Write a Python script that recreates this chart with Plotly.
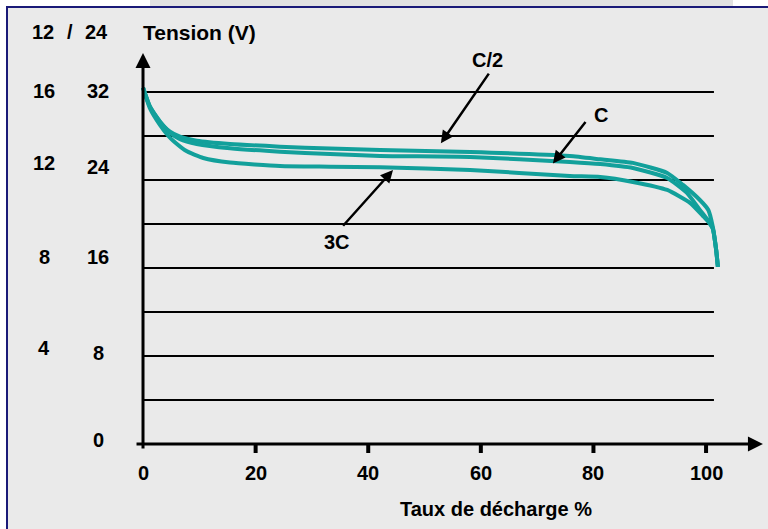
import plotly.graph_objects as go

# ---------------- data ----------------
x_c2 = [0, 1.24, 3.02, 4.8, 6.57, 9.54, 15.45, 24.33, 33.21, 42.1, 58.1, 75.8, 81.2, 87.0, 93.1, 95.9, 98.9, 100.4, 101.2, 101.8, 102.1]
y_c2 = [32.4, 30.66, 29.3, 28.39, 27.94, 27.57, 27.27, 27.03, 26.85, 26.73, 26.55, 26.18, 25.88, 25.55, 24.64, 23.55, 22.18, 21.27, 19.73, 17.6, 16.1]

x_c = [0, 1.24, 3.02, 4.8, 6.57, 9.54, 15.45, 24.33, 33.21, 42.1, 58.1, 75.8, 81.2, 87.0, 93.1, 96.6, 98.9, 100.1, 100.7, 101.2, 101.8, 102.1]
y_c = [32.4, 30.66, 29.3, 28.3, 27.7, 27.27, 26.88, 26.57, 26.36, 26.18, 26.09, 25.64, 25.45, 25.09, 24.18, 22.82, 21.27, 20.5, 20.1, 19.6, 17.6, 16.1]

x_3c = [0, 1.24, 3.0, 4.5, 5.4, 7.8, 10.7, 15.45, 24.33, 33.21, 42.1, 58.1, 75.8, 81.2, 87.0, 93.1, 97.2, 99.5, 100.4, 101.2, 101.8, 102.1]
y_3c = [32.4, 30.5, 29.0, 28.0, 27.55, 26.6, 26.0, 25.58, 25.27, 25.21, 25.15, 24.91, 24.36, 24.27, 23.82, 23.09, 21.9, 20.7, 20.2, 19.55, 17.6, 16.1]

x_ticks = [0, 20, 40, 60, 80, 100]
x_tick_labels = ["0", "20", "40", "60", "80", "100"]
grid_values = [4, 8, 12, 16, 20, 24, 28, 32]
labels_12v = ["16", "12", "8", "4"]
labels_24v = ["32", "24", "16", "8", "0"]
curve_names = ["C/2", "C", "3C"]

# ---------------- layout config ----------------
X_RANGE = [-25.4, 111.0]
Y_RANGE = [-7.73, 40.36]
TEAL = "#12a09b"
FONT = dict(family="Liberation Sans, Arial, sans-serif", size=20, color="black", weight="bold")
pos_12v_y = [32.09, 25.55, 17.0, 8.73]
pos_24v_y = [32.09, 25.18, 17.0, 8.27, 0.36]
col_12v_x = -17.58
col_24v_x = -7.99
grid_end_x = 101.4

fig = go.Figure()
for xs, ys, name in [(x_c2, y_c2, curve_names[0]), (x_c, y_c, curve_names[1]), (x_3c, y_3c, curve_names[2])]:
    fig.add_trace(go.Scatter(x=xs, y=ys, mode="lines", name=name,
                             line=dict(color=TEAL, width=4, shape="spline", smoothing=0.5),
                             showlegend=False, hoverinfo="skip"))

shapes = []
# background panel with navy frame (left/top visible)
shapes.append(dict(type="rect", xref="paper", yref="paper", x0=7/768, x1=1.05, y0=-0.05, y1=1 - 7/529,
                   fillcolor="#eaeaea", line=dict(color="#1a1a78", width=2), layer="below"))
# faint strip at top
shapes.append(dict(type="rect", xref="paper", yref="paper", x0=150/768, x1=733/768, y0=1 - 6/529, y1=1,
                   fillcolor="#e2e2e2", line=dict(width=0), layer="below"))
for g in grid_values:
    shapes.append(dict(type="line", xref="x", yref="y", x0=0, x1=grid_end_x, y0=g, y1=g,
                       line=dict(color="black", width=2), layer="below"))
for t in x_ticks[1:]:
    shapes.append(dict(type="line", xref="x", yref="y", x0=t, x1=t, y0=0, y1=-0.82,
                       line=dict(color="black", width=4), layer="below"))

ann = []
# axes with arrows
ann.append(dict(x=0, y=35.55, ax=0, ay=-0.55, xref="x", yref="y", axref="x", ayref="y", text="",
                showarrow=True, arrowhead=2, arrowsize=1, arrowwidth=3, arrowcolor="black", standoff=0))
ann.append(dict(x=110.1, y=0, ax=-1.42, ay=0, xref="x", yref="y", axref="x", ayref="y", text="",
                showarrow=True, arrowhead=2, arrowsize=1, arrowwidth=3, arrowcolor="black", standoff=0))
# tick labels
for t, lab in zip(x_ticks, x_tick_labels):
    ann.append(dict(x=t, y=-2.64, xref="x", yref="y", text=lab, showarrow=False, font=FONT))
for lab, yy in zip(labels_12v, pos_12v_y):
    ann.append(dict(x=col_12v_x, y=yy, xref="x", yref="y", text=lab, showarrow=False, font=FONT))
for lab, yy in zip(labels_24v, pos_24v_y):
    ann.append(dict(x=col_24v_x, y=yy, xref="x", yref="y", text=lab, showarrow=False, font=FONT))
# headers
ann.append(dict(x=-17.76, y=37.45, xref="x", yref="y", text="12", showarrow=False, font=FONT))
ann.append(dict(x=-13.0, y=37.45, xref="x", yref="y", text="/", showarrow=False, font=FONT))
ann.append(dict(x=-8.35, y=37.45, xref="x", yref="y", text="24", showarrow=False, font=FONT))
ann.append(dict(x=-0.3, y=37.45, xref="x", yref="y", text="Tension (V)", xanchor="left", showarrow=False,
                font=dict(FONT, size=21)))
ann.append(dict(x=62.7, y=-5.9, xref="x", yref="y", text="Taux de décharge %", showarrow=False, font=FONT))
# curve labels with arrows
curve_label_pos = [(61.1, 34.9), (81.35, 29.9), (34.46, 18.36)]
arrow_tips = [(52.9, 27.34), (72.8, 25.5), (44.4, 24.9)]
arrow_tails = [(61.6, 33.8), (78.8, 29.4), (35.3, 19.7)]
for name, (lx, ly), (tx, ty), (sx, sy) in zip(curve_names, curve_label_pos, arrow_tips, arrow_tails):
    ann.append(dict(x=lx, y=ly, xref="x", yref="y", text=name, showarrow=False, font=FONT))
    ann.append(dict(x=tx, y=ty, ax=sx, ay=sy, xref="x", yref="y", axref="x", ayref="y", text="",
                    showarrow=True, arrowhead=2, arrowsize=1, arrowwidth=2.5, arrowcolor="black", standoff=0))

fig.update_layout(
    width=768, height=529,
    margin=dict(l=0, r=0, t=0, b=0),
    paper_bgcolor="white", plot_bgcolor="rgba(0,0,0,0)",
    xaxis=dict(range=X_RANGE, visible=False, fixedrange=True),
    yaxis=dict(range=Y_RANGE, visible=False, fixedrange=True),
    shapes=shapes, annotations=ann, showlegend=False,
)
fig.write_html("out.html", post_script="document.body.style.margin='0';document.body.style.overflow='hidden';",
               config={"displayModeBar": False})
